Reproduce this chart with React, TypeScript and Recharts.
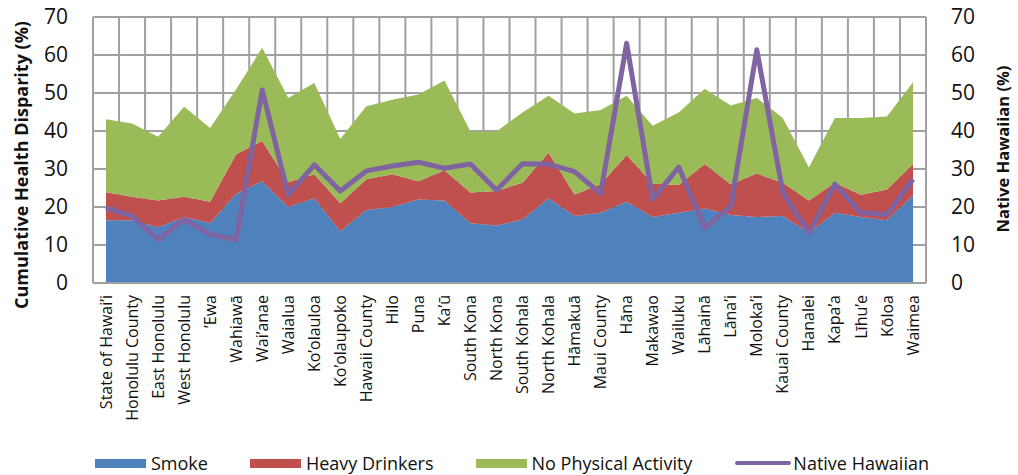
import React from 'react';
import { ComposedChart, Area, Line, XAxis, YAxis, CartesianGrid, Legend, Label } from 'recharts';

const categories = [
  'State of Hawai’i', 'Honolulu County', 'East Honolulu', 'West Honolulu', '’Ewa', 'Wahiawā',
  'Wai’anae', 'Waialua', 'Ko’olauloa', 'Ko’olaupoko', 'Hawaii County', 'Hilo', 'Puna', 'Ka’ū',
  'South Kona', 'North Kona', 'South Kohala', 'North Kohala', 'Hāmakuā', 'Maui County', 'Hāna',
  'Makawao', 'Wailuku', 'Lāhainā', 'Lāna’i', 'Moloka’i', 'Kauai County', 'Hanalei', 'Kapa’a',
  'Līhu’e', 'Kōloa', 'Waimea',
];

const smoke = [16.5, 16.5, 14.7, 17.3, 15.8, 23.5, 26.8, 20.0, 22.3, 13.6, 19.2, 20.0, 22.0, 21.7, 15.7, 15.1, 16.7, 22.3, 17.6, 18.5, 21.4, 17.4, 18.5, 19.6, 17.9, 17.4, 17.6, 13.2, 18.5, 17.4, 16.5, 23.1];
const heavyDrinkers = [7.4, 6.2, 7.0, 5.4, 5.6, 10.4, 10.6, 6.5, 6.3, 7.4, 8.1, 8.6, 4.8, 8.0, 8.1, 9.1, 9.7, 12.0, 5.7, 7.5, 12.3, 8.7, 7.3, 11.7, 8.1, 11.4, 8.8, 8.5, 7.9, 5.8, 8.1, 8.2];
const noPhysicalActivity = [19.2, 19.3, 16.8, 23.7, 19.4, 17.1, 24.5, 22.2, 24.0, 16.9, 19.2, 19.6, 22.8, 23.6, 16.1, 15.7, 18.5, 15.0, 21.3, 19.5, 15.6, 15.3, 19.1, 19.8, 20.7, 19.9, 17.0, 8.7, 17.0, 20.2, 19.2, 21.5];
const nativeHawaiian = [19.8, 17.6, 11.4, 16.7, 12.8, 11.4, 50.8, 23.2, 31.1, 24.2, 29.5, 30.8, 31.8, 30.2, 31.3, 24.4, 31.4, 31.3, 29.3, 23.5, 63.1, 22.0, 30.5, 14.5, 20.2, 61.4, 23.8, 13.2, 26.0, 18.5, 18.0, 27.3];

const seriesNames = ['Smoke', 'Heavy Drinkers', 'No Physical Activity', 'Native Hawaiian'];
const yTicks = [0, 10, 20, 30, 40, 50, 60, 70];

const data = categories.map((name, i) => ({
  name,
  smoke: smoke[i],
  heavy: heavyDrinkers[i],
  nopa: noPhysicalActivity[i],
  nh: nativeHawaiian[i],
}));

const FONT = '"Open Sans", "DejaVu Sans", sans-serif';
const GRID = '#a0a0a0';

const XTick = (props: any) => {
  const { x, y, payload } = props;
  const ty = y + 12;
  return (
    <text
      x={x}
      y={ty}
      transform={`rotate(-90, ${x}, ${ty})`}
      textAnchor="end"
      dy="0.35em"
      fontSize={16}
      fontFamily={FONT}
      fill="#111"
    >
      {payload.value}
    </text>
  );
};

const LegendContent = (props: any) => {
  const items = [...(props.payload || [])].sort(
    (a: any, b: any) => seriesNames.indexOf(a.value) - seriesNames.indexOf(b.value)
  );
  return (
    <div
      style={{
        height: 30,
        boxSizing: 'border-box',
        paddingTop: 6,
        paddingLeft: 95,
        display: 'flex',
        alignItems: 'center',
        gap: 42,
        fontFamily: FONT,
        fontSize: 18,
        color: '#111',
      }}
    >
      {items.map((entry: any) => (
        <div key={entry.value} style={{ display: 'flex', alignItems: 'center' }}>
          {entry.type === 'line' ? (
            <svg width={58} height={10} style={{ marginRight: 1 }}>
              <line x1={3} y1={5} x2={55} y2={5} stroke={entry.color} strokeWidth={4} strokeLinecap="round" />
            </svg>
          ) : (
            <div style={{ width: 51, height: 9, background: entry.color, marginRight: 5 }} />
          )}
          <span style={{ lineHeight: '18px' }}>{entry.value}</span>
        </div>
      ))}
    </div>
  );
};

const verticalGen = ({ offset }: any) => {
  const n = categories.length;
  return Array.from({ length: n + 1 }, (_, i) => offset.left + (i * offset.width) / n);
};

const AxisTitle = ({ viewBox, dxFromAxis, dyFromCenter, text, size }: any) => {
  const cx = viewBox.x + dxFromAxis;
  const cy = viewBox.y + viewBox.height / 2 + dyFromCenter;
  return (
    <text
      x={cx}
      y={cy}
      transform={`rotate(-90, ${cx}, ${cy})`}
      textAnchor="middle"
      dy="0.35em"
      fontSize={size}
      fontWeight="bold"
      fontFamily={FONT}
      fill="#111"
    >
      {text}
    </text>
  );
};

export default function App() {
  return (
    <div style={{ position: 'absolute', left: 0, top: 0, width: 1018, height: 475, background: '#fff' }}>
      <ComposedChart
        width={1018}
        height={475}
        data={data}
        margin={{ top: 17, right: 0, bottom: 0, left: 0 }}
      >
        <CartesianGrid
          yAxisId="left"
          stroke={GRID}
          strokeWidth={2}
          verticalCoordinatesGenerator={verticalGen}
        />
        <XAxis
          dataKey="name"
          interval={0}
          padding={{ left: 13, right: 13 }}
          height={162}
          tick={<XTick />}
          tickLine={false}
          tickSize={0}
          tickMargin={0}
          axisLine={{ stroke: GRID, strokeWidth: 2 }}
        />
        <YAxis
          yAxisId="left"
          domain={[0, 70]}
          ticks={yTicks}
          width={93}
          tickLine={false}
          tickSize={0}
          tickMargin={25}
          axisLine={{ stroke: GRID, strokeWidth: 2 }}
          tick={{ fontSize: 21, fontFamily: FONT, fill: '#111' }}
        >
          <Label
            content={(p: any) => (
              <AxisTitle viewBox={p.viewBox} dxFromAxis={22} dyFromCenter={15} size={18} text="Cumulative Health Disparity (%)" />
            )}
          />
        </YAxis>
        <YAxis
          yAxisId="right"
          orientation="right"
          domain={[0, 70]}
          ticks={yTicks}
          width={92}
          tickLine={false}
          tickSize={0}
          tickMargin={25}
          axisLine={{ stroke: GRID, strokeWidth: 2 }}
          tick={{ fontSize: 21, fontFamily: FONT, fill: '#111' }}
        >
          <Label
            content={(p: any) => (
              <AxisTitle viewBox={p.viewBox} dxFromAxis={77} dyFromCenter={-1} size={16.5} text="Native Hawaiian (%)" />
            )}
          />
        </YAxis>
        <Area
          yAxisId="left"
          type="linear"
          dataKey="smoke"
          name={seriesNames[0]}
          stackId="s"
          stroke="none"
          fill="#4F81BD"
          fillOpacity={1}
          legendType="rect"
          isAnimationActive={false}
        />
        <Area
          yAxisId="left"
          type="linear"
          dataKey="heavy"
          name={seriesNames[1]}
          stackId="s"
          stroke="none"
          fill="#C0504D"
          fillOpacity={1}
          legendType="rect"
          isAnimationActive={false}
        />
        <Area
          yAxisId="left"
          type="linear"
          dataKey="nopa"
          name={seriesNames[2]}
          stackId="s"
          stroke="none"
          fill="#9BBB59"
          fillOpacity={1}
          legendType="rect"
          isAnimationActive={false}
        />
        <Line
          yAxisId="right"
          type="linear"
          dataKey="nh"
          name={seriesNames[3]}
          stroke="#8064A2"
          strokeWidth={5}
          strokeLinejoin="round"
          dot={false}
          activeDot={false}
          legendType="line"
          isAnimationActive={false}
        />
        <Legend verticalAlign="bottom" content={<LegendContent />} />
      </ComposedChart>
    </div>
  );
}
